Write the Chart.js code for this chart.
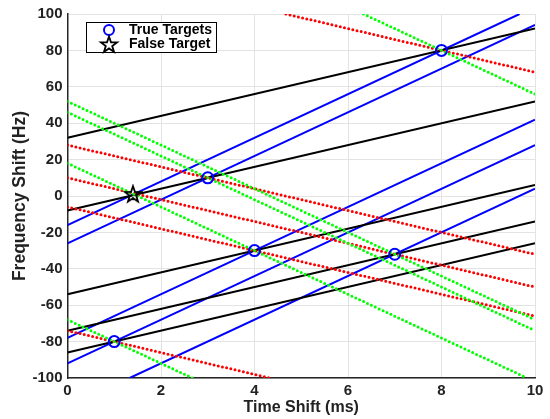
<!DOCTYPE html>
<html>
<head>
<meta charset="utf-8">
<script src="https://cdn.jsdelivr.net/npm/chart.js@4"></script>
<style>
  html, body { margin: 0; padding: 0; background: #fff; }
  #wrap { width: 550px; height: 419px; position: relative; }
</style>
</head>
<body>
<div id="wrap"><canvas id="chart"></canvas></div>
<script>
// target positions
const trueTargetX = [1, 3, 4, 7, 8];
const trueTargetY = [-80, 10, -30, -32, 80];
const falseTargetX = [1.4];
const falseTargetY = [1];

// line endpoints: [x0, y0, x1, y1]
const blueLines = [
    [0, -92, 10, 28],
    [0, -26, 10, 94],
    [0, -78, 10, 42],
    [1.33, -100, 10, 4],
    [0, -16, 9.67, 100]
];
const blackLines = [
    [0, -86, 10, -26],
    [0, -8, 10, 52],
    [0, -54, 10, 6],
    [0, -74, 10, -14],
    [0, 32, 10, 92]
];
const redLines = [
    [0, -74, 4.33, -100],
    [0, 28, 10, -32],
    [0, -6, 10, -66],
    [0, 10, 10, -50],
    [4.67, 100, 10, 68]
];
const greenLines = [
    [0, -68, 2.67, -100],
    [0, 46, 10, -74],
    [0, 18, 9.83, -100],
    [0, 52, 10, -68],
    [6.33, 100, 10, 56]
];

const xTicks = [0, 2, 4, 6, 8, 10];
const yTicks = [-100, -80, -60, -40, -20, 0, 20, 40, 60, 80, 100];

const FONT = "'Liberation Sans', Arial, Helvetica, sans-serif";

function drawPentagram(c, cx, cy, r, lw) {
    let inner = r * 0.4;
    c.beginPath();
    for (let i = 0; i < 10; i++) {
        let a = -Math.PI / 2 + i * Math.PI / 5;
        let rr = (i % 2 == 0) ? r : inner;
        let px = cx + rr * Math.cos(a), py = cy + rr * Math.sin(a);
        if (i == 0) c.moveTo(px, py); else c.lineTo(px, py);
    }
    c.closePath();
    c.lineWidth = lw;
    c.lineJoin = 'miter';
    c.strokeStyle = '#000';
    c.stroke();
}

const starImg = document.createElement('canvas');
starImg.width = 20; starImg.height = 20;
drawPentagram(starImg.getContext('2d'), 10, 10.5, 8.5, 1.8);

function lineSets(list, color, dotted, order) {
    return list.map(l => {
        let ds = {
            data: [{x: l[0], y: l[1]}, {x: l[2], y: l[3]}],
            showLine: true,
            borderColor: color,
            backgroundColor: color,
            pointRadius: 0,
            borderWidth: 2,
            order: order
        };
        if (dotted) {
            ds.borderWidth = 3;
            ds.borderDash = [0, 4.3];
            ds.borderCapStyle = 'round';
        }
        return ds;
    });
}

let datasets = [
    {
        data: trueTargetX.map((x, i) => ({x: x, y: trueTargetY[i]})),
        pointStyle: 'circle',
        pointRadius: 5.5,
        borderWidth: 2,
        borderColor: '#0000ff',
        backgroundColor: 'rgba(0,0,0,0)',
        showLine: false,
        order: 0
    },
    {
        data: falseTargetX.map((x, i) => ({x: x, y: falseTargetY[i]})),
        pointStyle: starImg,
        showLine: false,
        order: 0
    }
].concat(
    lineSets(greenLines, '#00ff00', true, 1),
    lineSets(redLines, '#ff0000', true, 2),
    lineSets(blackLines, '#000000', false, 3),
    lineSets(blueLines, '#0000ff', false, 4)
);

const legendBox = {
    id: 'legendBox',
    afterDatasetsDraw(chart) {
        const c = chart.ctx;
        c.save();
        c.fillStyle = '#fff';
        c.fillRect(86.5, 22.5, 130, 30);
        c.strokeStyle = '#000';
        c.lineWidth = 1;
        c.strokeRect(86.5, 22.5, 130, 30);
        c.beginPath();
        c.arc(109, 30, 5, 0, Math.PI * 2);
        c.strokeStyle = '#0000ff';
        c.lineWidth = 2;
        c.stroke();
        drawPentagram(c, 109, 45, 8.5, 1.8);
        c.fillStyle = '#000';
        c.font = "bold 14px " + FONT;
        c.textBaseline = 'middle';
        c.fillText('True Targets', 129, 30);
        c.fillText('False Target', 129, 44);
        c.restore();
    }
};

const tickFont = {family: FONT, size: 15, weight: 'bold'};

new Chart(document.getElementById('chart'), {
    type: 'scatter',
    data: {datasets: datasets},
    plugins: [legendBox],
    options: {
        responsive: true,
        maintainAspectRatio: false,
        animation: false,
        layout: {padding: {left: 0, right: 15, top: 9, bottom: 0}},
        plugins: {legend: {display: false}, tooltip: {enabled: false}},
        scales: {
            x: {
                type: 'linear',
                min: 0, max: 10,
                afterFit: s => { s.height = 41; },
                afterBuildTicks: s => { s.ticks = xTicks.map(v => ({value: v})); },
                ticks: {color: '#222', font: tickFont, padding: 4, maxRotation: 0},
                grid: {color: '#e3e3e3', drawTicks: false, lineWidth: 1},
                border: {color: '#262626', width: 1.5},
                title: {display: true, text: 'Time Shift (ms)', color: '#222',
                        font: {family: FONT, size: 16, weight: 'bold'}, padding: {top: 0, bottom: 2}}
            },
            y: {
                type: 'linear',
                min: -100, max: 100,
                afterFit: s => { s.width = 67.5; },
                afterBuildTicks: s => { s.ticks = yTicks.map(v => ({value: v})); },
                ticks: {color: '#222', font: tickFont, padding: 5},
                grid: {color: '#e3e3e3', drawTicks: false, lineWidth: 1},
                border: {color: '#262626', width: 1.5},
                title: {display: true, text: 'Frequency Shift (Hz)', color: '#222',
                        font: {family: FONT, size: 17.5, weight: 'bold'}, padding: {top: 10, bottom: 0}}
            }
        }
    }
});
</script>
</body>
</html>
